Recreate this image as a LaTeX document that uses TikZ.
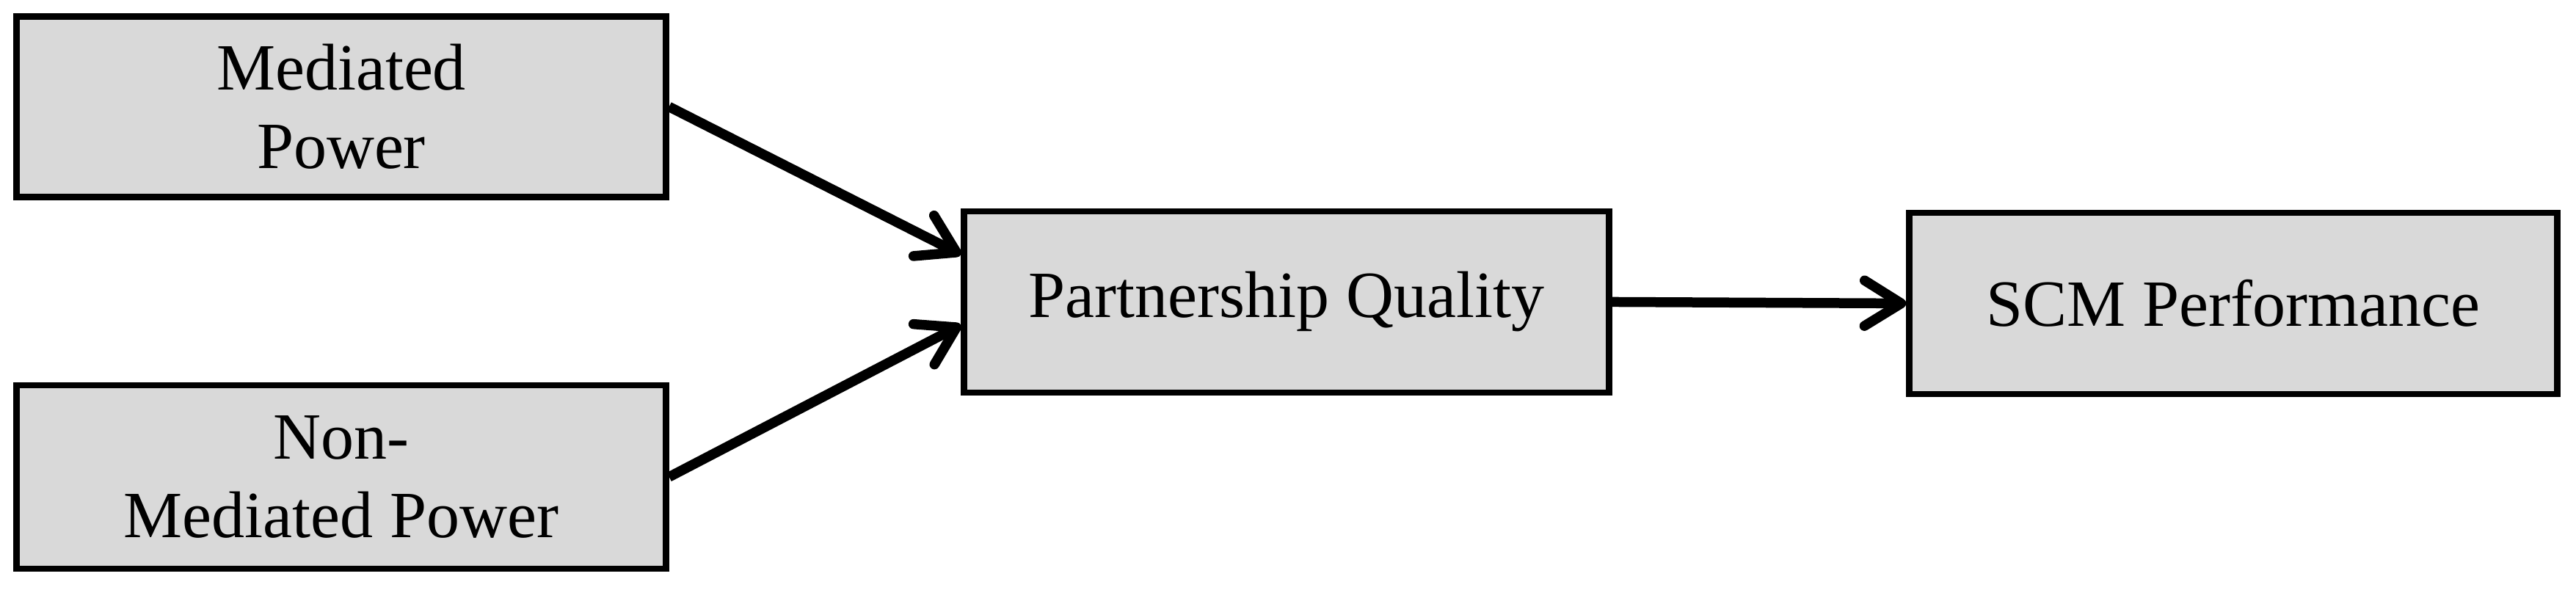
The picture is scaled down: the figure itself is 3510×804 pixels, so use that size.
\documentclass[tikz,border=0pt]{standalone}
\usepackage{fontspec}
\setmainfont{Liberation Serif}
\usetikzlibrary{arrows.meta,calc}
\definecolor{boxgray}{HTML}{D9D9D9}
\tikzset{
  factor/.style={draw=black, fill=boxgray, line width=0.85pt, rectangle,
    inner sep=0pt, align=center, font=\fontsize{9}{10.7}\selectfont},
  link/.style={line width=1.35pt, -{Straight Barb[length=5pt,width=6.2pt,round]}}
}
\begin{document}
\begin{tikzpicture}[x=0.1pt,y=-0.1pt]
\useasboundingbox (0,0) rectangle (3510,804);
\node[factor, minimum width=88.5pt, minimum height=24.6pt] (med) at (465,145.5) {Mediated\\Power};
\node[factor, minimum width=88.5pt, minimum height=25.0pt] (nmed) at (465,650) {Non-\\Mediated Power};
\node[factor, minimum width=87.9pt, minimum height=24.7pt] (pq) at (1753,411.5) {Partnership Quality};
\node[factor, minimum width=88.3pt, minimum height=24.7pt] (scm) at (3043,413.5) {SCM Performance};
\draw[link] (med.east) -- ([yshift=6.45pt]pq.west);
\draw[link] (nmed.east) -- ([yshift=-3.15pt]pq.west);
\draw[link] (pq.east) -- (scm.west);
\end{tikzpicture}
\end{document}
